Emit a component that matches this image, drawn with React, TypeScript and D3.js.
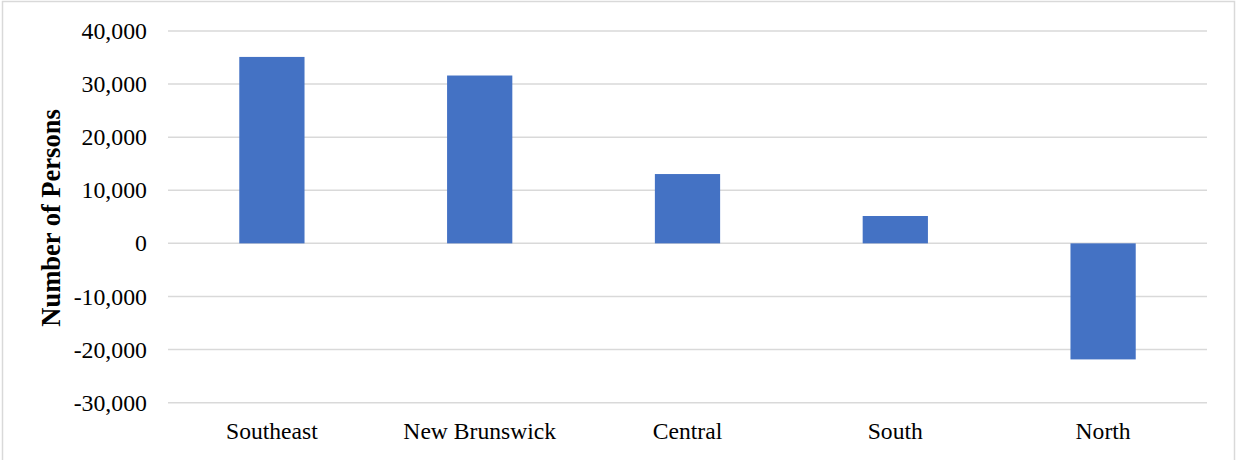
import React from "react";
import * as d3 from "d3";

const categories = ["Southeast", "New Brunswick", "Central", "South", "North"];
const values = [35100, 31600, 13050, 5150, -21850];
const yTicks = [40000, 30000, 20000, 10000, 0, -10000, -20000, -30000];
const yLabel = "Number of Persons";

const W = 1236;
const H = 460;
const plot = { left: 168, right: 1207, top: 30.9, bottom: 402.7 };

export default function App() {
  const x = d3
    .scaleBand<string>()
    .domain(categories)
    .range([plot.left, plot.right])
    .paddingInner(0.686)
    .paddingOuter(0.343);
  const y = d3.scaleLinear().domain([-30000, 40000]).range([plot.bottom, plot.top]);
  const fmt = (v: number) => d3.format(",")(v).replace("\u2212", "-");
  const font = "'Liberation Serif', 'Times New Roman', serif";
  return (
    <svg
      width={W}
      height={H}
      style={{ position: "absolute", left: 0, top: 0, background: "#fff" }}
      fontFamily={font}
    >
      <rect x={2.5} y={1.5} width={1232} height={470} fill="#fff" stroke="#d9d9d9" strokeWidth={1.5} />
      {yTicks.map((t) => (
        <g key={t}>
          <line x1={plot.left} x2={plot.right} y1={y(t)} y2={y(t)} stroke="#d9d9d9" strokeWidth={1.5} />
          <text x={147} y={y(t)} dy="0.34em" textAnchor="end" fontSize={23.8} fill="#000">
            {fmt(t)}
          </text>
        </g>
      ))}
      {categories.map((c, i) => (
        <rect
          key={c}
          x={x(c)}
          width={x.bandwidth()}
          y={y(Math.max(0, values[i]))}
          height={Math.abs(y(values[i]) - y(0))}
          fill="#4472C4"
        />
      ))}
      {categories.map((c) => (
        <text key={c} x={(x(c) as number) + x.bandwidth() / 2} y={439} textAnchor="middle" fontSize={23.6} fill="#000">
          {c}
        </text>
      ))}
      <text
        transform={`translate(60,218) rotate(-90)`}
        textAnchor="middle"
        fontSize={26.5}
        fontWeight="bold"
        fill="#000"
      >
        {yLabel}
      </text>
    </svg>
  );
}
